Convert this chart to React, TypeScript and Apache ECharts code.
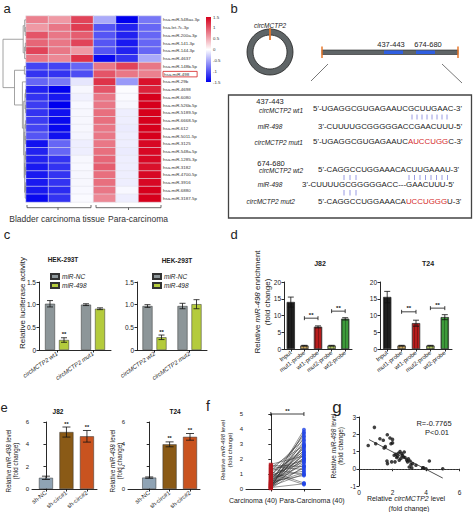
import React, { useEffect, useRef } from 'react';
import * as echarts from 'echarts';

const FONT = '"Liberation Sans", Arial, Helvetica, sans-serif';

// ---------------- panel a : heatmap ----------------
const heatRows = [
  'hsa-miR-548au-3p', 'hsa-let-7c-3p', 'hsa-miR-200a-3p', 'hsa-miR-141-3p', 'hsa-miR-144-3p',
  'hsa-miR-4637', 'hsa-miR-148b-5p', 'hsa-miR-498', 'hsa-miR-29b', 'hsa-miR-4698', 'hsa-miR-6080',
  'hsa-miR-526b-5p', 'hsa-miR-5189-5p', 'hsa-miR-6668-5p', 'hsa-miR-612', 'hsa-miR-5011-5p',
  'hsa-miR-3125', 'hsa-miR-548a-5p', 'hsa-miR-1285-3p', 'hsa-miR-3182', 'hsa-miR-4700-5p',
  'hsa-miR-3916', 'hsa-miR-6880', 'hsa-miR-3187-5p',
];
const heatCols = ['BC1', 'BC2', 'BC3', 'PC1', 'PC2', 'PC3'];
const heatValues = [
  [0.75, 0.6, 1.1, -0.5, -1.5, -0.8],
  [0.6, 0.8, 1.15, -1.0, -1.3, -0.9],
  [1.0, 0.8, 0.95, -1.0, -1.3, -0.9],
  [0.9, 0.8, 1.1, -1.0, -1.35, -0.9],
  [1.1, 0.8, 0.6, -1.0, -1.3, -0.9],
  [0.8, 0.7, 1.2, -1.45, -1.2, -0.5],
  [-1.1, -1.1, -0.9, 0.8, 1.1, 0.8],
  [-1.2, -1.2, -1.05, 1.0, 0.8, 0.75],
  [-0.9, -0.8, -0.15, 1.2, -0.6, 1.4],
  [-1.3, -1.5, -0.05, 1.0, -0.02, 1.3],
  [-1.2, -1.35, -0.08, 0.8, -0.03, 1.5],
  [-1.15, -1.5, -0.04, 0.8, -0.05, 1.5],
  [-1.2, -1.4, -0.05, 0.85, -0.1, 1.5],
  [-1.15, -1.45, -0.05, 0.85, -0.1, 1.5],
  [-1.1, -1.45, -0.05, 0.8, -0.12, 1.5],
  [-1.0, -1.4, -0.06, 0.8, -0.1, 1.5],
  [-1.4, -0.9, -0.1, 0.8, -0.1, 1.45],
  [-1.3, -0.9, -0.1, 0.85, -0.12, 1.45],
  [-1.3, -1.2, -0.05, 0.9, -0.1, 1.45],
  [-1.35, -1.2, -0.04, 0.95, -0.1, 1.4],
  [-1.35, -1.2, -0.05, 0.85, -0.1, 1.45],
  [-1.35, -1.2, -0.05, 0.85, -0.1, 1.45],
  [-1.35, -1.25, -0.04, 0.8, -0.04, 1.5],
  [-1.45, -1.2, -0.03, 0.7, -0.1, 1.5],
];
const heatMin = -1.5;
const heatMax = 1.5;
const heatGroups = ['Bladder carcinoma tissue', 'Para-carcinoma'];
// dendrogram merges: [rowA, heightA, rowB, heightB, mergeHeight]
const dendroMerges = [
  [1, 0, 2, 0, 0.8], [0, 0, 1.5, 0.8, 1.3], [3, 0, 4, 0, 0.7], [3.5, 0.7, 5, 0, 1.4],
  [0.75, 1.3, 4.25, 1.4, 2.8],
  [6, 0, 7, 0, 1.6],
  [9, 0, 10, 0, 0.5], [11, 0, 12, 0, 0.4], [13, 0, 14, 0, 0.4], [15, 0, 16, 0, 0.6],
  [17, 0, 18, 0, 0.5], [19, 0, 20, 0, 0.4], [21, 0, 22, 0, 0.4], [21.5, 0.4, 23, 0, 0.8],
  [9.5, 0.5, 11.5, 0.4, 1.0], [13.5, 0.4, 15.5, 0.6, 1.1], [17.5, 0.5, 19.5, 0.4, 0.9],
  [18.5, 0.9, 22.25, 0.8, 1.4], [14.5, 1.1, 20.375, 1.4, 1.8], [10.5, 1.0, 17.44, 1.8, 2.3],
  [8, 0, 13.97, 2.3, 3.6], [6.5, 1.6, 10.98, 3.6, 11.5], [2.5, 2.8, 8.74, 11.5, 23],
];

// ---------------- panel c : luciferase ----------------
const lucCats1 = ['circMCTP2 wt1', 'circMCTP2 mut1'];
const lucCats2 = ['circMCTP2 wt2', 'circMCTP2 mut2'];
const lucNC1 = [1.02, 1.0];
const lucNC1Err = [0.07, 0.02];
const luc498a = [0.22, 0.91];
const luc498aErr = [0.05, 0.02];
const lucNC2 = [0.97, 0.97];
const lucNC2Err = [0.03, 0.06];
const luc498b = [0.28, 1.01];
const luc498bErr = [0.05, 0.1];
const lucSig = ['**', ''];

// ---------------- panel d : pull-down ----------------
const pullCats = ['Input', 'mut1-probe', 'wt1-probe', 'mut2-probe', 'wt2-probe'];
const pullJ82 = [14.0, 1.0, 6.6, 1.0, 9.0];
const pullJ82Err = [1.5, 0.1, 0.3, 0.1, 0.35];
const pullT24 = [15.5, 1.0, 7.7, 1.0, 9.5];
const pullT24Err = [1.7, 0.1, 0.9, 0.1, 0.75];
const pullJ82Brackets = [[1, 2, 9.2], [3, 4, 11.3]];
const pullT24Brackets = [[1, 2, 11.1], [3, 4, 12.2]];
const pullColors = ['#1e1e1e', '#c8a55c', '#b71c1c', '#a9c05c', '#3d9a3a'];

// ---------------- panel e : knockdown ----------------
const shCats = ['sh-NC', 'sh-circ#1', 'sh-circ#2'];
const shJ82 = [1.0, 5.1, 4.72];
const shJ82Err = [0.15, 0.45, 0.52];
const shT24 = [1.02, 4.0, 4.67];
const shT24Err = [0.06, 0.22, 0.3];
const shSig = ['', '**', '**'];
const shColors = ['#8fa3b4', '#8a5a16', '#c9531f'];

// ---------------- panel f : paired tissues ----------------
const fCats = ['Carcinoma (40)', 'Para-Carcinoma (40)'];
const fCarcinoma = [1.65, 1.58, 1.5, 1.42, 1.35, 1.3, 1.22, 1.15, 1.1, 1.02, 0.95, 0.9, 0.85, 0.8, 0.75, 0.7,
  0.65, 0.6, 0.55, 0.5, 0.48, 0.45, 0.4, 0.38, 0.35, 0.32, 0.3, 0.27, 0.25, 0.22, 0.2, 0.18, 0.15, 0.12, 0.1,
  0.08, 0.06, 0.05, 0.03, 0.02];
const fPara = [2.2, 1.5, 1.3, 2.9, 0.95, 1.9, 3.3, 0.4, 2.5, 0.3, 2.7, 1.8, 3.55, 2.05, 1.2, 2.4, 3.05, 1.6,
  2.25, 0.9, 3.7, 2.0, 2.85, 1.1, 2.6, 3.95, 1.4, 2.3, 3.2, 1.75, 2.8, 1.0, 3.45, 2.1, 0.35, 2.45, 3.8, 1.95,
  2.95, 1.5];
const fSigLevel = 5;

// ---------------- panel g : correlation ----------------
const gCirc = [0.55, 0.92, 1.0, 1.25, 1.45, 1.5, 1.57, 1.69, 1.85, 1.91, 2.0, 2.0, 1.67, 1.7, 1.95, 2.1, 2.15,
  2.2, 2.3, 2.35, 2.4, 2.5, 2.55, 2.6, 2.65, 2.7, 2.75, 2.85, 2.9, 2.95, 3.0, 3.05, 3.1, 3.15, 3.4, 3.8, 3.85,
  4.0, 4.2, 5.0, 2.45, 2.25, 3.2];
const gMir = [1.35, 2.4, 1.45, 1.74, 1.65, 1.2, 1.28, 1.97, 1.78, 1.45, 1.5, 1.7, 0.45, 0.3, 0.4, 0.78, 0.4,
  0.84, 0.72, 0.9, 0.5, 0.6, 0.88, 0.78, 0.68, 0.97, 0.65, 0.5, 0.4, 0.58, 0.1, 0.45, 0.25, 0.05, 0.2, 0.05,
  0.05, 0.0, 0.45, 0.0, 1.0, 0.65, 0.3];
const gFit = [[0.6, 1.69], [5.0, -0.54]];
const gStats = ['R=-0.7765', 'P<0.01'];

// ---------------- helpers ----------------
const BLACK = '#111';
const axisLine = { show: true, lineStyle: { color: BLACK, width: 0.9 } };
const axisTick = { show: true, length: 2.5, lineStyle: { color: BLACK, width: 0.9 } };

function valueY(gi: number, min: number, max: number, interval: number, fmt?: any, size = 6.5) {
  return {
    type: 'value', gridIndex: gi, min, max, interval,
    axisLine, axisTick, splitLine: { show: false },
    axisLabel: { fontSize: size, fontFamily: FONT, color: '#222', margin: 3, formatter: fmt },
  };
}
function catX(gi: number, cats: string[], rotate: number, italic = false, size = 6) {
  return {
    type: 'category', gridIndex: gi, data: cats,
    axisLine, axisTick: { ...axisTick, alignWithLabel: true }, splitLine: { show: false },
    axisLabel: { fontSize: size, fontFamily: FONT, color: '#222', rotate, margin: 3, interval: 0, fontStyle: italic ? 'italic' : 'normal' },
  };
}
function lineEl(x1: number, y1: number, x2: number, y2: number, stroke = BLACK, lw = 0.8) {
  return { type: 'line', shape: { x1, y1, x2, y2 }, style: { stroke, lineWidth: lw } };
}
function richFont(size: number, italic = false, color = '#222', bold = false) {
  return { fontSize: size, fontFamily: FONT, fontStyle: italic ? 'italic' : 'normal', fontWeight: bold ? 'bold' : 'normal', fill: color, color };
}
function txt(x: number, y: number, text: string, o: any = {}) {
  const size = o.size ?? 7;
  return {
    type: 'text', x, y, silent: true, rotation: o.rot ?? 0,
    style: {
      text, fontSize: size, fontFamily: FONT,
      fontStyle: o.italic ? 'italic' : 'normal', fontWeight: o.bold ? 'bold' : 'normal',
      fill: o.color ?? '#222', textAlign: o.align ?? 'center', textVerticalAlign: o.valign ?? 'middle',
      rich: {
        i: richFont(size, true, o.color ?? '#222'),
        r: richFont(size, false, '#d42a2a'),
      },
    },
  };
}
function errorBars(gi: number, means: number[], errs: number[], offset: number, sigs: string[] | null, capW = 3, sigSize = 6) {
  return {
    type: 'custom', xAxisIndex: gi, yAxisIndex: gi, z: 5, silent: true,
    data: means.map((m, i) => [i, m, errs[i]]),
    encode: { x: 0, y: 1 },
    renderItem: (params: any, api: any) => {
      const i = api.value(0), m = api.value(1), e = api.value(2);
      const top = api.coord([i, m + e]);
      const bot = api.coord([i, m - e]);
      const cx = top[0] + offset;
      const children: any[] = [
        lineEl(cx, top[1], cx, bot[1]),
        lineEl(cx - capW, top[1], cx + capW, top[1]),
        lineEl(cx - capW, bot[1], cx + capW, bot[1]),
      ];
      const s = sigs ? sigs[params.dataIndex] : '';
      if (s) {
        children.push({
          type: 'text', x: cx, y: top[1] - 0.5,
          style: { text: s, fontSize: sigSize, fontFamily: FONT, fontWeight: 'bold', fill: BLACK, textAlign: 'center', textVerticalAlign: 'bottom' },
        });
      }
      return { type: 'group', children };
    },
  };
}
function brackets(gi: number, items: number[][], sigSize = 6) {
  return {
    type: 'custom', xAxisIndex: gi, yAxisIndex: gi, z: 6, silent: true,
    data: items,
    encode: { x: [0, 1], y: 2 },
    renderItem: (_p: any, api: any) => {
      const a = api.coord([api.value(0), api.value(2)]);
      const b = api.coord([api.value(1), api.value(2)]);
      return {
        type: 'group',
        children: [
          lineEl(a[0], a[1], b[0], b[1]),
          lineEl(a[0], a[1] - 2, a[0], a[1] + 2),
          lineEl(b[0], b[1] - 2, b[0], b[1] + 2),
          {
            type: 'text', x: (a[0] + b[0]) / 2, y: a[1] - 0.5,
            style: { text: '**', fontSize: sigSize, fontFamily: FONT, fontWeight: 'bold', fill: BLACK, textAlign: 'center', textVerticalAlign: 'bottom' },
          },
        ],
      };
    },
  };
}

const decal = { symbol: 'rect', symbolSize: 1, dashArrayX: [1, 1.6], dashArrayY: [4, 0], color: 'rgba(0,0,0,0.28)' };

function buildOption(): any {
  const heatData: any[] = [];
  heatValues.forEach((row, r) => row.forEach((v, c) => heatData.push([c, r, v])));
  const segs: number[][] = [];
  dendroMerges.forEach(([pa, ha, pb, hb, hm]) => {
    segs.push([ha, pa, hm, pa]);
    segs.push([hb, pb, hm, pb]);
    segs.push([hm, pa, hm, pb]);
  });

  const grids = [
    { left: 26, top: 16, width: 135, height: 186 }, // 0 heat
    { left: 3, top: 16, width: 23, height: 186 }, // 1 dendro
    { left: 206, top: 17, width: 5, height: 65 }, // 2 colorbar
    { left: 39, top: 282, width: 72, height: 68 }, // 3 c1
    { left: 137, top: 282, width: 70, height: 68 }, // 4 c2
    { left: 284, top: 282, width: 68, height: 67 }, // 5 d1
    { left: 380, top: 282, width: 72, height: 67 }, // 6 d2
    { left: 32, top: 422, width: 65, height: 67 }, // 7 e1
    { left: 128, top: 422, width: 72, height: 67 }, // 8 e2
    { left: 246, top: 414, width: 74.5, height: 75 }, // 9 f
    { left: 359, top: 417, width: 100.5, height: 69 }, // 10 g
  ];

  const hidden = { show: false };
  const xAxes: any[] = [
    { type: 'category', gridIndex: 0, data: heatCols, show: false },
    { type: 'value', gridIndex: 1, min: 0, max: 23, inverse: true, show: false },
    { type: 'value', gridIndex: 2, min: 0, max: 1, show: false },
    catX(3, lucCats1, 35, true),
    catX(4, lucCats2, 35, true),
    catX(5, pullCats, 38),
    catX(6, pullCats, 38),
    {
      type: 'value', gridIndex: 7, min: -0.68, max: 2.49, axisLine, splitLine: hidden,
      axisTick: { ...axisTick, customValues: [0, 1, 2] },
      axisLabel: { customValues: [0, 1, 2], formatter: (v: number) => shCats[Math.round(v)], rotate: 38, fontSize: 6, fontFamily: FONT, color: '#222', margin: 3 },
    },
    {
      type: 'value', gridIndex: 8, min: -1.04, max: 2.49, axisLine, splitLine: hidden,
      axisTick: { ...axisTick, customValues: [0, 1, 2] },
      axisLabel: { customValues: [0, 1, 2], formatter: (v: number) => shCats[Math.round(v)], rotate: 38, fontSize: 6, fontFamily: FONT, color: '#222', margin: 3 },
    },
    {
      type: 'value', gridIndex: 9, min: -0.75, max: 1.5, axisLine, splitLine: hidden,
      axisTick: { ...axisTick, customValues: [0, 1] }, axisLabel: { show: false },
    },
    {
      type: 'value', gridIndex: 10, min: 0, max: 6, interval: 2, axisLine, axisTick, splitLine: hidden,
      axisLabel: { fontSize: 6.5, fontFamily: FONT, color: '#222', margin: 3 },
    },
  ];
  const yAxes: any[] = [
    {
      type: 'category', gridIndex: 0, data: heatRows, inverse: true, position: 'right',
      axisLine: hidden, axisTick: hidden,
      axisLabel: {
        fontSize: 4.4, fontFamily: FONT, color: '#333', margin: 2,
        formatter: (v: string) => (v === 'hsa-miR-498' ? `{box|${v}}` : v),
        rich: { box: { fontSize: 4.4, fontFamily: FONT, color: '#333', borderColor: '#d42020', borderWidth: 0.8, padding: [1, 8, 0.5, 1] } },
      },
    },
    { type: 'value', gridIndex: 1, min: -0.5, max: 23.5, inverse: true, show: false },
    {
      type: 'value', gridIndex: 2, min: heatMin, max: heatMax, interval: 0.5, position: 'right',
      axisLine: hidden, axisTick: hidden, splitLine: hidden,
      axisLabel: { fontSize: 4.4, fontFamily: FONT, color: '#333', margin: 2, formatter: (v: number) => String(v) },
    },
    valueY(3, 0, 1.5, 0.5, (v: number) => (v === 0 ? '0' : v.toFixed(1)), 6.5),
    valueY(4, 0, 1.5, 0.5, (v: number) => (v === 0 ? '0' : v.toFixed(1)), 6.5),
    valueY(5, 0, 20, 5, undefined, 6.5),
    valueY(6, 0, 20, 5, undefined, 6.5),
    valueY(7, 0, 6, 2, undefined, 6),
    valueY(8, 0, 6, 2, undefined, 6),
    valueY(9, 0, 5, 1, undefined, 6),
    valueY(10, -1, 3, 1, undefined, 6.5),
  ];

  const barBorder = { borderColor: '#333', borderWidth: 0.5 };
  const series: any[] = [
    {
      type: 'heatmap', xAxisIndex: 0, yAxisIndex: 0, data: heatData, silent: true,
      itemStyle: { borderColor: '#e4e4ec', borderWidth: 0.6 },
    },
    {
      type: 'custom', xAxisIndex: 1, yAxisIndex: 1, data: segs, encode: { x: [0, 2], y: [1, 3] }, silent: true,
      renderItem: (_p: any, api: any) => {
        const a = api.coord([api.value(0), api.value(1)]);
        const b = api.coord([api.value(2), api.value(3)]);
        return lineEl(a[0], a[1], b[0], b[1], '#8c8c8c', 0.8);
      },
    },
    {
      type: 'custom', xAxisIndex: 2, yAxisIndex: 2, data: [[0, heatMax, 1, heatMin]], encode: { x: [0, 2], y: [1, 3] }, silent: true,
      renderItem: (_p: any, api: any) => {
        const a = api.coord([api.value(0), api.value(1)]);
        const b = api.coord([api.value(2), api.value(3)]);
        return {
          type: 'rect', shape: { x: a[0], y: a[1], width: b[0] - a[0], height: b[1] - a[1] },
          style: {
            fill: new echarts.graphic.LinearGradient(0, 0, 0, 1, [
              { offset: 0, color: '#d6001c' }, { offset: 0.5, color: '#ffffff' }, { offset: 1, color: '#0000ee' },
            ]),
          },
        };
      },
    },
    // c
    { type: 'bar', name: 'miR-NC', xAxisIndex: 3, yAxisIndex: 3, data: lucNC1, barWidth: 10, barGap: '40%', itemStyle: { color: '#8d9699', ...barBorder } },
    { type: 'bar', name: 'miR-498', xAxisIndex: 3, yAxisIndex: 3, data: luc498a, barWidth: 10, barGap: '40%', itemStyle: { color: '#b4cb3c', ...barBorder } },
    errorBars(3, lucNC1, lucNC1Err, -7, null),
    errorBars(3, luc498a, luc498aErr, 7, lucSig),
    { type: 'bar', name: 'miR-NC', xAxisIndex: 4, yAxisIndex: 4, data: lucNC2, barWidth: 10, barGap: '40%', itemStyle: { color: '#8d9699', ...barBorder } },
    { type: 'bar', name: 'miR-498', xAxisIndex: 4, yAxisIndex: 4, data: luc498b, barWidth: 10, barGap: '40%', itemStyle: { color: '#b4cb3c', ...barBorder } },
    errorBars(4, lucNC2, lucNC2Err, -7, null),
    errorBars(4, luc498b, luc498bErr, 7, lucSig),
    // d
    {
      type: 'bar', xAxisIndex: 5, yAxisIndex: 5, barWidth: 8,
      data: pullJ82.map((v, i) => ({ value: v, itemStyle: { color: pullColors[i] } })),
      itemStyle: { ...barBorder, decal },
    },
    errorBars(5, pullJ82, pullJ82Err, 0, null, 3),
    brackets(5, pullJ82Brackets),
    {
      type: 'bar', xAxisIndex: 6, yAxisIndex: 6, barWidth: 8,
      data: pullT24.map((v, i) => ({ value: v, itemStyle: { color: pullColors[i] } })),
      itemStyle: { ...barBorder, decal },
    },
    errorBars(6, pullT24, pullT24Err, 0, null, 3),
    brackets(6, pullT24Brackets),
    // e
    {
      type: 'bar', xAxisIndex: 7, yAxisIndex: 7, barWidth: 14,
      data: shJ82.map((v, i) => ({ value: [i, v], itemStyle: { color: shColors[i] } })),
      itemStyle: barBorder,
    },
    errorBars(7, shJ82, shJ82Err, 0, shSig, 4, 5.5),
    {
      type: 'bar', xAxisIndex: 8, yAxisIndex: 8, barWidth: 14,
      data: shT24.map((v, i) => ({ value: [i, v], itemStyle: { color: shColors[i] } })),
      itemStyle: barBorder,
    },
    errorBars(8, shT24, shT24Err, 0, shSig, 4, 5.5),
    // f
    {
      type: 'custom', xAxisIndex: 9, yAxisIndex: 9, silent: true,
      data: fCarcinoma.map((c, i) => [0, c, 1, fPara[i]]), encode: { x: [0, 2], y: [1, 3] },
      renderItem: (_p: any, api: any) => {
        const a = api.coord([api.value(0), api.value(1)]);
        const b = api.coord([api.value(2), api.value(3)]);
        return lineEl(a[0], a[1], b[0], b[1], '#333', 0.5);
      },
    },
    {
      type: 'scatter', xAxisIndex: 9, yAxisIndex: 9, symbol: 'rect', symbolSize: [4, 3],
      data: fCarcinoma.map((c) => [0, c]), itemStyle: { color: '#b4141c' }, z: 4,
    },
    {
      type: 'scatter', xAxisIndex: 9, yAxisIndex: 9, symbol: 'circle', symbolSize: 4,
      data: fPara.map((p) => [1, p]), itemStyle: { color: '#2143e6' }, z: 4,
    },
    brackets(9, [[0, 1, fSigLevel]], 5.5),
    // g
    {
      type: 'scatter', xAxisIndex: 10, yAxisIndex: 10, symbolSize: 3.6,
      data: gCirc.map((x, i) => [x, gMir[i]]), itemStyle: { color: '#111' },
      markLine: {
        silent: true, symbol: 'none', label: { show: false },
        lineStyle: { type: [1.5, 1.5], color: '#555', width: 0.7 },
        data: [{ yAxis: 0 }],
      },
    },
    {
      type: 'line', xAxisIndex: 10, yAxisIndex: 10, data: gFit, symbol: 'none',
      lineStyle: { color: '#222', width: 0.8 },
    },
  ];

  const pipes = (x0: number, n: number, dx: number, y1: number, y2: number) =>
    Array.from({ length: n }, (_, k) => lineEl(x0 + k * dx, y1, x0 + k * dx, y2, '#7d82dc', 0.8));

  const seqSize = 7.9;
  const labSize = 6.5;
  const graphic: any[] = [
    // panel letters
    txt(7, 8, 'a', { size: 13 }),
    txt(234, 8, 'b', { size: 13 }),
    txt(7, 234, 'c', { size: 13 }),
    txt(234, 234, 'd', { size: 13 }),
    txt(4, 407, 'e', { size: 13 }),
    txt(208, 406, 'f', { size: 14 }),
    txt(337, 407, 'g', { size: 17 }),
    // panel a group brackets
    { type: 'polyline', shape: { points: [[27, 205], [27, 207.7], [91, 207.7], [91, 205]] }, style: { stroke: '#444', lineWidth: 0.8, fill: 'none' } },
    lineEl(58, 207.7, 58, 210, '#444'),
    { type: 'polyline', shape: { points: [[96, 205], [96, 207.7], [161, 207.7], [161, 205]] }, style: { stroke: '#444', lineWidth: 0.8, fill: 'none' } },
    lineEl(128.5, 207.7, 128.5, 210, '#444'),
    txt(57, 218.5, heatGroups[0], { size: 8.5, color: '#333' }),
    txt(138, 218.5, heatGroups[1], { size: 8.5, color: '#333' }),
    // panel b
    txt(270, 25, 'circMCTP2', { size: 6.5, italic: true }),
    { type: 'ring', shape: { cx: 270, cy: 52, r: 23, r0: 17 }, style: { fill: '#5f6567', stroke: '#222', lineWidth: 0.8 } },
    lineEl(270, 28, 270, 40, '#e8782c', 1.8),
    { type: 'rect', shape: { x: 322, y: 50, width: 136, height: 4.5 }, style: { fill: '#5f6567', stroke: '#222', lineWidth: 0.6 } },
    { type: 'rect', shape: { x: 384, y: 50.5, width: 19, height: 3.5 }, style: { fill: '#2f5fe0' } },
    { type: 'rect', shape: { x: 416, y: 50.5, width: 19, height: 3.5 }, style: { fill: '#2f5fe0' } },
    lineEl(322, 46.5, 322, 58, '#e8782c', 1.5),
    lineEl(458, 46.5, 458, 58, '#e8782c', 1.5),
    txt(391, 44, '437-443', { size: 7.5 }),
    txt(428, 44, '674-680', { size: 7.5 }),
    lineEl(328, 64, 311, 81, '#555', 0.8),
    lineEl(442, 64, 462, 83, '#555', 0.8),
    { type: 'rect', shape: { x: 228.5, y: 95, width: 243, height: 123 }, style: { fill: 'none', stroke: '#444', lineWidth: 1.3 } },
    txt(270, 101.7, '437-443', { size: 7.5 }),
    txt(303, 110, 'circMCTP2 wt1', { size: labSize, italic: true, align: 'right' }),
    txt(313, 108.5, "5'-UGAGGCGUGAGAAUCGCUUGAAC-3'", { size: seqSize, align: 'left' }),
    ...pipes(412, 8, 5, 114.5, 119.5),
    txt(270, 126, 'miR-498', { size: labSize, italic: true }),
    txt(318, 126, "3'-CUUUUGCGGGGGACCGAACUUU-5'", { size: seqSize, align: 'left' }),
    txt(303, 142, 'circMCTP2 mut1', { size: labSize, italic: true, align: 'right' }),
    txt(313, 141.7, "5'-UGAGGCGUGAGAAUC{r|AUCCUGG}C-3'", { size: seqSize, align: 'left' }),
    txt(271, 163.3, '674-680', { size: 7.5 }),
    txt(303, 170, 'circMCTP2 wt2', { size: labSize, italic: true, align: 'right' }),
    txt(318, 169.5, "5'-CAGGCCUGGAAACACUUGAAAU-3'", { size: seqSize, align: 'left' }),
    ...pipes(344, 3, 6, 175, 180),
    ...pipes(409, 8, 5.5, 175, 180),
    txt(270, 184.3, 'miR-498', { size: labSize, italic: true }),
    txt(302, 184.3, "3'-CUUUUGCGGGGGACC---GAACUUU-5'", { size: seqSize, align: 'left' }),
    ...pipes(344, 3, 6, 190, 195.5),
    txt(295, 201.5, 'circMCTP2 mut2', { size: labSize, italic: true, align: 'right' }),
    txt(318, 201.5, "5'-CAGGCCUGGAAACA{r|UCCUGGG}U-3'", { size: seqSize, align: 'left' }),
    // panel c titles / y names
    txt(63, 259.5, 'HEK-293T', { size: 6.5, bold: true }),
    txt(177, 260, 'HEK-293T', { size: 6.5, bold: true }),
    txt(22, 303, 'Relative luciferase activity', { size: 8, rot: Math.PI / 2 }),
    // panel d
    txt(320, 263, 'J82', { size: 7, bold: true }),
    txt(428, 263, 'T24', { size: 7, bold: true }),
    txt(257, 302, 'Relative {i|miR-498} enrichment', { size: 8, rot: Math.PI / 2 }),
    txt(267, 302, '(fold change)', { size: 8, rot: Math.PI / 2 }),
    // panel e
    txt(58, 411, 'J82', { size: 6.5, bold: true, color: '#111' }),
    txt(175, 411, 'T24', { size: 6.5, bold: true, color: '#111' }),
    txt(8, 461, 'Relative {i|miR-498} level', { size: 6.3, rot: Math.PI / 2 }),
    txt(15.5, 461, '(fold change)', { size: 6.3, rot: Math.PI / 2 }),
    txt(112, 461, 'Relative {i|miR-498} level', { size: 6.3, rot: Math.PI / 2 }),
    txt(119.5, 461, '(fold change)', { size: 6.3, rot: Math.PI / 2 }),
    // panel f
    txt(223, 450, 'Relative {i|miR-498} level', { size: 6, rot: Math.PI / 2 }),
    txt(230, 450, '(fold change)', { size: 6, rot: Math.PI / 2 }),
    txt(253, 500, fCats[0], { size: 7 }),
    txt(312, 500, fCats[1], { size: 7 }),
    // panel g
    txt(333, 446, 'Relative {i|miR-498} level', { size: 6.5, rot: Math.PI / 2 }),
    txt(340, 446, '(fold change)', { size: 6.5, rot: Math.PI / 2 }),
    txt(406, 498.5, 'Relative {i|circMCTP2} level', { size: 7 }),
    txt(409, 508, '(fold change)', { size: 7 }),
    txt(434, 423, gStats[0], { size: 7.5 }),
    txt(437, 432.5, gStats[1], { size: 7.5 }),
  ];

  const legendBase = {
    orient: 'vertical', itemWidth: 8, itemHeight: 5, itemGap: 2, icon: 'rect', selectedMode: false,
    data: ['miR-NC', 'miR-498'],
    textStyle: { fontSize: 6.5, fontStyle: 'italic', fontFamily: FONT, color: '#222', padding: [0, 0, 0, -2] },
  };

  return {
    animation: false,
    backgroundColor: '#fff',
    textStyle: { fontFamily: FONT },
    grid: grids,
    xAxis: xAxes,
    yAxis: yAxes,
    visualMap: {
      show: false, type: 'continuous', min: heatMin, max: heatMax, seriesIndex: 0, dimension: 2,
      inRange: { color: ['#0000ee', '#ffffff', '#d6001c'] },
    },
    legend: [
      { ...legendBase, left: 45, top: 268 },
      { ...legendBase, left: 147, top: 268 },
    ],
    series,
    graphic,
  };
}

export default function App() {
  const ref = useRef<HTMLDivElement>(null);
  useEffect(() => {
    if (!ref.current) return;
    const chart = echarts.init(ref.current, null, { renderer: 'svg' });
    chart.setOption(buildOption());
    return () => chart.dispose();
  }, []);
  return (
    <div
      ref={ref}
      style={{ position: 'fixed', left: 0, top: 0, width: 474, height: 512, background: '#fff' }}
    />
  );
}
